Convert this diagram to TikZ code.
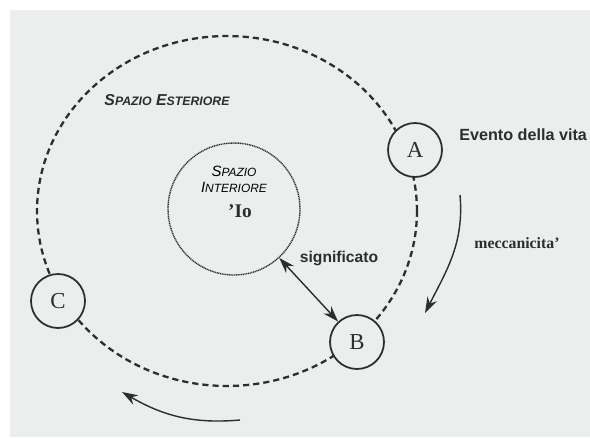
\documentclass[tikz,border=0pt]{standalone}
\usepackage{fontspec}
\setmainfont{Liberation Serif}
\setsansfont{Liberation Sans}
\usetikzlibrary{arrows.meta,shapes.geometric}
\definecolor{paper}{RGB}{234,238,236}
\definecolor{ink}{RGB}{45,45,45}
% first letter full size, the rest smaller caps
\newcommand{\capword}[3]{#2{\fontsize{#1}{#1}\selectfont #3}}
\begin{document}
\begin{tikzpicture}[
  x=0.02cm, y=0.02cm,
  orbit/.style={ellipse, draw=ink, line width=1.3pt, dash pattern=on 3.5pt off 2.3pt,
    minimum width=7.6cm, minimum height=7cm, inner sep=0pt},
  self/.style={circle, draw=ink, line width=0.8pt, dash pattern=on 0.6pt off 0.4pt,
    minimum size=2.64cm, inner sep=0pt},
  event/.style={circle, draw=ink, line width=1pt, fill=paper, minimum size=1.08cm,
    inner sep=0pt, text=ink, font=\fontsize{13}{13}\selectfont},
  note/.style={text=ink, inner sep=0pt},
  flow/.style={draw=ink, line width=0.8pt, -{Stealth[length=9pt,width=6pt]}}
]
\useasboundingbox (0,0) rectangle (590,437);
\fill[paper] (10,0) rectangle (590,427);

% spaces
\node[orbit] (outer) at (227,226) {};
\node[self] (inner) at (234,228) {};

% events on the cycle
\node[event] (A) at (415,287) {A};
\node[event] (B) at (357,95) {B};
\node[event] (C) at (58,136) {C};

% texts
\node[note, font=\sffamily\bfseries\itshape\fontsize{9}{9}\selectfont] (ext) at (167,337)
  {\capword{7}{S}{PAZIO} \capword{7}{E}{STERIORE}};
\node[note, text=black, align=center, font=\sffamily\itshape\fontsize{8.5}{9}\selectfont] (int) at (234,258)
  {\capword{6.8}{S}{PAZIO}\\\capword{6.8}{I}{NTERIORE}};
\node[note, font=\bfseries\fontsize{11}{11}\selectfont] (io) at (240,226) {'Io};
\node[note, anchor=west, font=\sffamily\bfseries\fontsize{9.2}{9.2}\selectfont] (vita) at (459,302)
  {Evento della vita};
\node[note, font=\sffamily\bfseries\fontsize{8.9}{8.9}\selectfont] (sig) at (339,179) {significato};
\node[note, anchor=west, font=\bfseries\fontsize{9}{9}\selectfont] (mec) at (474,194) {meccanicita'};

% arrows
\coordinate (m1) at (460,242);
\coordinate (m2) at (425,124);
\coordinate (r1) at (240,17);
\coordinate (r2) at (122,45);
\draw[flow] (m1) to[out=-85, in=63] (m2);
\draw[flow] (r1) to[out=185, in=-30] (r2);
\draw[flow, {Stealth[length=9pt,width=6pt]}-{Stealth[length=9pt,width=6pt]}] (inner) -- (B);
\end{tikzpicture}
\end{document}
